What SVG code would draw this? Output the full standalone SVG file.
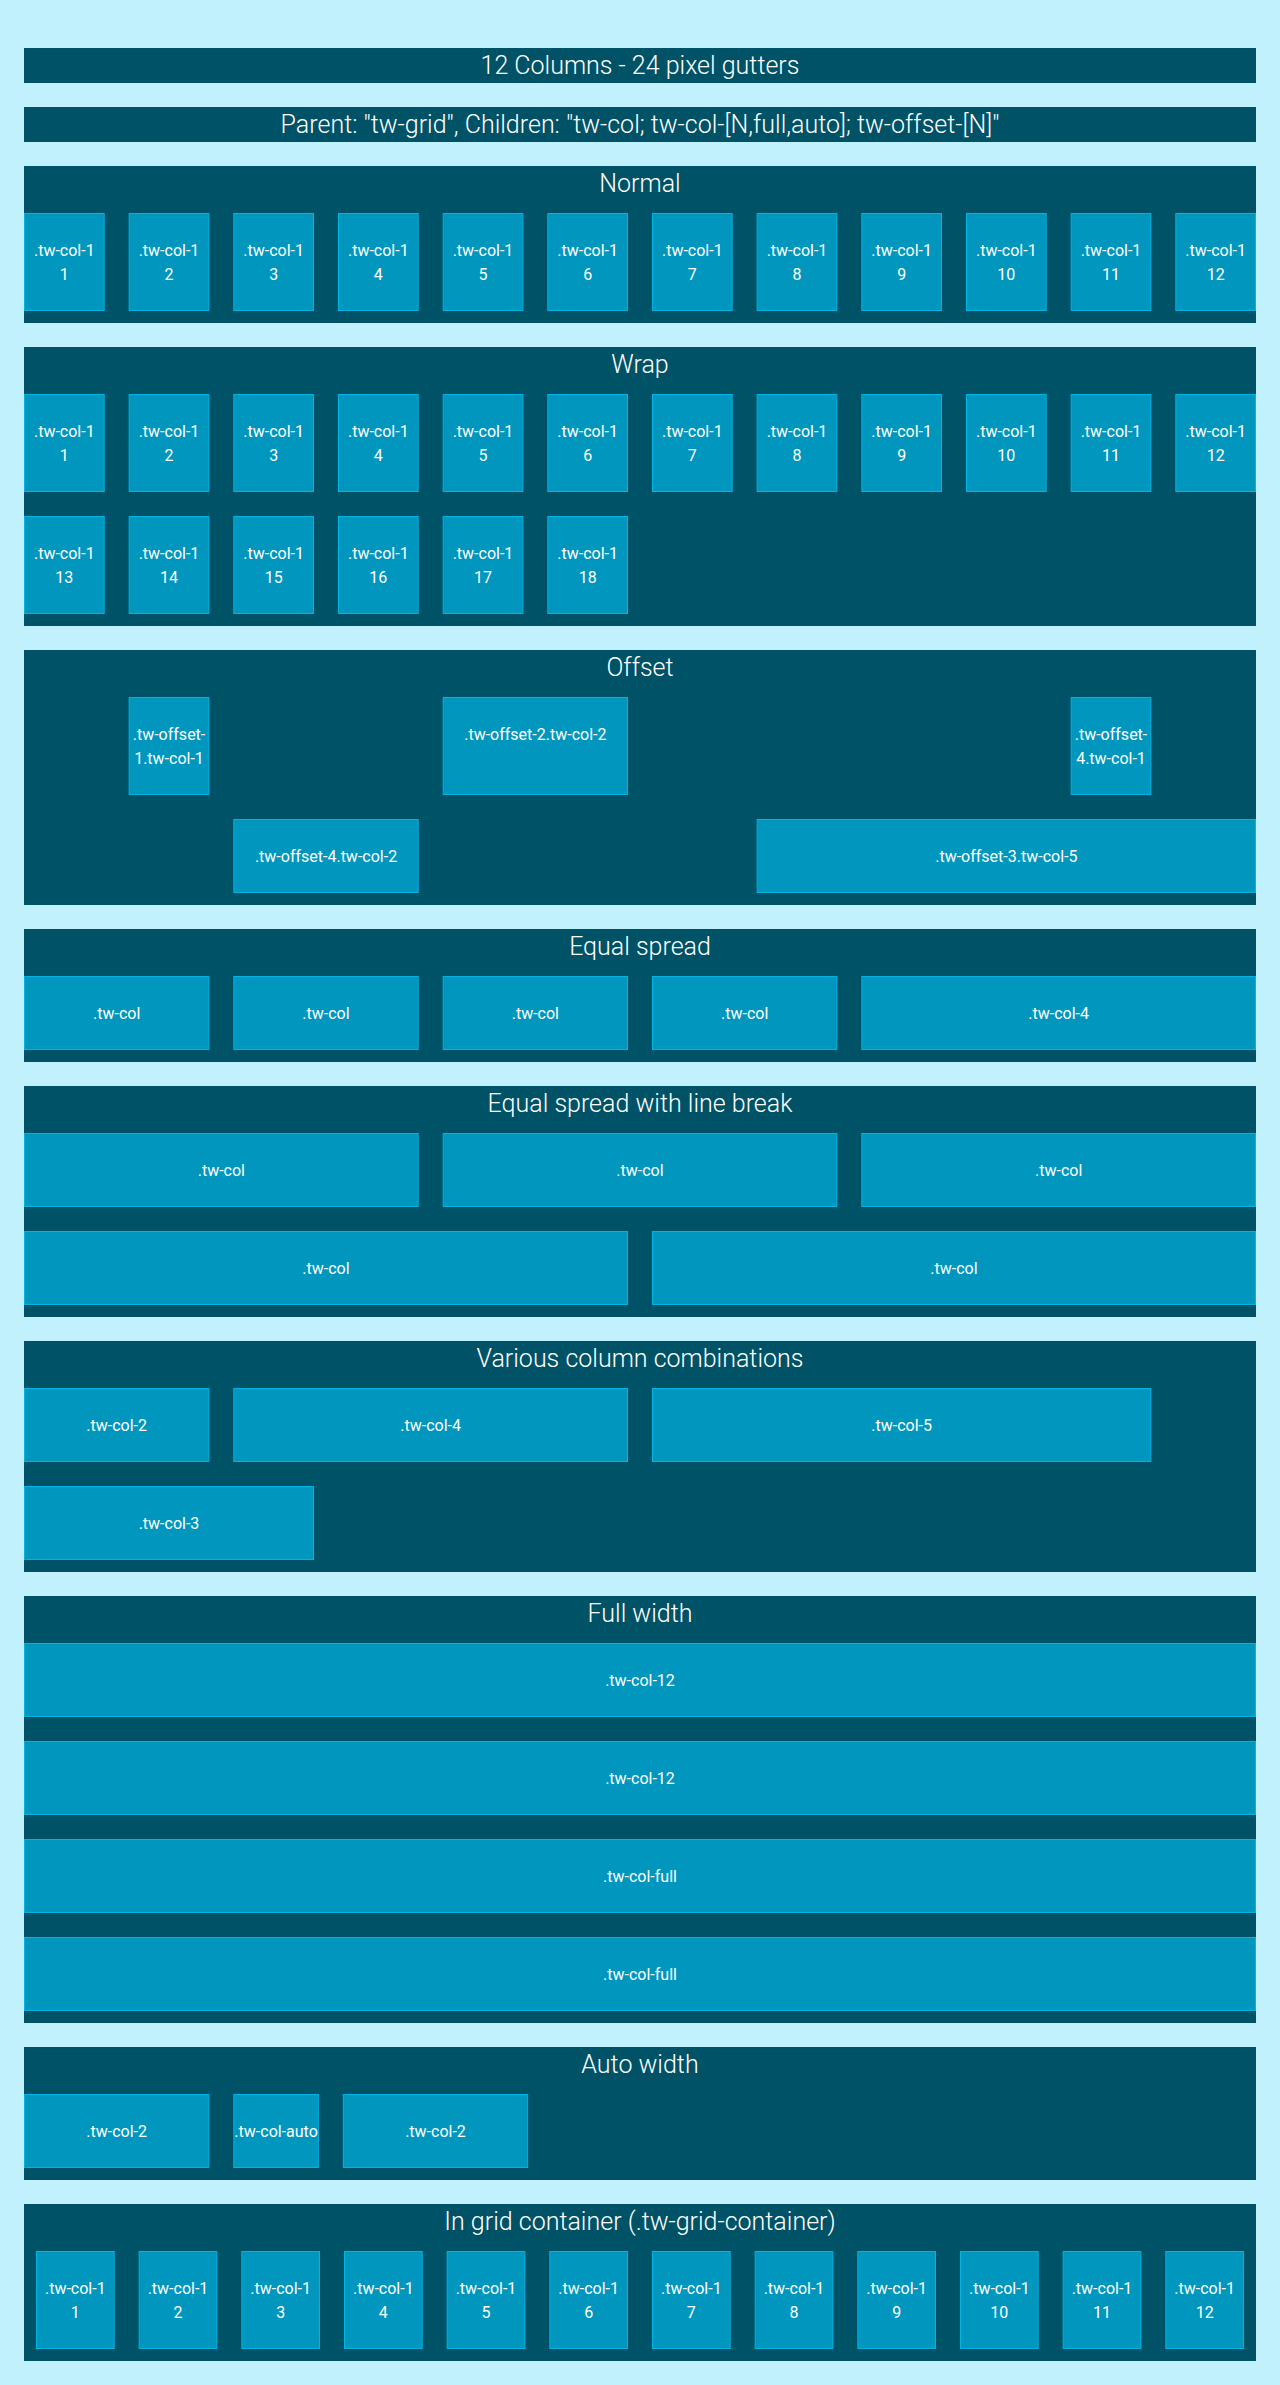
<svg xmlns="http://www.w3.org/2000/svg" width="1280" height="2385" viewBox="0 0 1280 2385">
  <style>
    .bg { fill: #c2f1fe; }
    .panel { fill: #005266; }
    .col { fill: #0096be; stroke: #00b4e6; stroke-width: 1; }
    .ttl { font-family: Roboto, "Liberation Sans", sans-serif; font-weight: 300; font-size: 25px; fill: #ffffff; text-anchor: middle; }
    .lbl { font-family: Roboto, "Liberation Sans", sans-serif; font-weight: 400; font-size: 16px; fill: #ffffff; text-anchor: middle; }
  </style>

  <rect class="bg" x="0" y="0" width="1280" height="2385"/>

  <!-- header bars -->
  <g id="heading">
    <rect class="panel" x="24" y="48" width="1232" height="35"/>
    <text class="ttl" x="640" y="74">12 Columns - 24 pixel gutters</text>
  </g>
  <g id="usage">
    <rect class="panel" x="24" y="107" width="1232" height="35"/>
    <text class="ttl" x="640" y="133">Parent: "tw-grid", Children: "tw-col; tw-col-[N,full,auto]; tw-offset-[N]"</text>
  </g>

  <!-- Normal -->
  <g id="normal">
    <rect class="panel" x="24" y="166" width="1232" height="157"/>
    <text class="ttl" x="640" y="192">Normal</text>
    <g id="normal-1"><rect class="col" x="24.5" y="213.5" width="79.67" height="97"/><text class="lbl" x="64.33" y="256">.tw-col-1</text><text class="lbl" x="64.33" y="280">1</text></g>
    <g id="normal-2"><rect class="col" x="129.17" y="213.5" width="79.67" height="97"/><text class="lbl" x="169" y="256">.tw-col-1</text><text class="lbl" x="169" y="280">2</text></g>
    <g id="normal-3"><rect class="col" x="233.83" y="213.5" width="79.67" height="97"/><text class="lbl" x="273.67" y="256">.tw-col-1</text><text class="lbl" x="273.67" y="280">3</text></g>
    <g id="normal-4"><rect class="col" x="338.5" y="213.5" width="79.67" height="97"/><text class="lbl" x="378.33" y="256">.tw-col-1</text><text class="lbl" x="378.33" y="280">4</text></g>
    <g id="normal-5"><rect class="col" x="443.17" y="213.5" width="79.67" height="97"/><text class="lbl" x="483" y="256">.tw-col-1</text><text class="lbl" x="483" y="280">5</text></g>
    <g id="normal-6"><rect class="col" x="547.83" y="213.5" width="79.67" height="97"/><text class="lbl" x="587.67" y="256">.tw-col-1</text><text class="lbl" x="587.67" y="280">6</text></g>
    <g id="normal-7"><rect class="col" x="652.5" y="213.5" width="79.67" height="97"/><text class="lbl" x="692.33" y="256">.tw-col-1</text><text class="lbl" x="692.33" y="280">7</text></g>
    <g id="normal-8"><rect class="col" x="757.17" y="213.5" width="79.67" height="97"/><text class="lbl" x="797" y="256">.tw-col-1</text><text class="lbl" x="797" y="280">8</text></g>
    <g id="normal-9"><rect class="col" x="861.83" y="213.5" width="79.67" height="97"/><text class="lbl" x="901.67" y="256">.tw-col-1</text><text class="lbl" x="901.67" y="280">9</text></g>
    <g id="normal-10"><rect class="col" x="966.5" y="213.5" width="79.67" height="97"/><text class="lbl" x="1006.33" y="256">.tw-col-1</text><text class="lbl" x="1006.33" y="280">10</text></g>
    <g id="normal-11"><rect class="col" x="1071.17" y="213.5" width="79.67" height="97"/><text class="lbl" x="1111" y="256">.tw-col-1</text><text class="lbl" x="1111" y="280">11</text></g>
    <g id="normal-12"><rect class="col" x="1175.83" y="213.5" width="79.67" height="97"/><text class="lbl" x="1215.67" y="256">.tw-col-1</text><text class="lbl" x="1215.67" y="280">12</text></g>
  </g>

  <!-- Wrap -->
  <g id="wrap">
    <rect class="panel" x="24" y="347" width="1232" height="279"/>
    <text class="ttl" x="640" y="373">Wrap</text>
    <g id="wrap-1"><rect class="col" x="24.5" y="394.5" width="79.67" height="97"/><text class="lbl" x="64.33" y="437">.tw-col-1</text><text class="lbl" x="64.33" y="461">1</text></g>
    <g id="wrap-2"><rect class="col" x="129.17" y="394.5" width="79.67" height="97"/><text class="lbl" x="169" y="437">.tw-col-1</text><text class="lbl" x="169" y="461">2</text></g>
    <g id="wrap-3"><rect class="col" x="233.83" y="394.5" width="79.67" height="97"/><text class="lbl" x="273.67" y="437">.tw-col-1</text><text class="lbl" x="273.67" y="461">3</text></g>
    <g id="wrap-4"><rect class="col" x="338.5" y="394.5" width="79.67" height="97"/><text class="lbl" x="378.33" y="437">.tw-col-1</text><text class="lbl" x="378.33" y="461">4</text></g>
    <g id="wrap-5"><rect class="col" x="443.17" y="394.5" width="79.67" height="97"/><text class="lbl" x="483" y="437">.tw-col-1</text><text class="lbl" x="483" y="461">5</text></g>
    <g id="wrap-6"><rect class="col" x="547.83" y="394.5" width="79.67" height="97"/><text class="lbl" x="587.67" y="437">.tw-col-1</text><text class="lbl" x="587.67" y="461">6</text></g>
    <g id="wrap-7"><rect class="col" x="652.5" y="394.5" width="79.67" height="97"/><text class="lbl" x="692.33" y="437">.tw-col-1</text><text class="lbl" x="692.33" y="461">7</text></g>
    <g id="wrap-8"><rect class="col" x="757.17" y="394.5" width="79.67" height="97"/><text class="lbl" x="797" y="437">.tw-col-1</text><text class="lbl" x="797" y="461">8</text></g>
    <g id="wrap-9"><rect class="col" x="861.83" y="394.5" width="79.67" height="97"/><text class="lbl" x="901.67" y="437">.tw-col-1</text><text class="lbl" x="901.67" y="461">9</text></g>
    <g id="wrap-10"><rect class="col" x="966.5" y="394.5" width="79.67" height="97"/><text class="lbl" x="1006.33" y="437">.tw-col-1</text><text class="lbl" x="1006.33" y="461">10</text></g>
    <g id="wrap-11"><rect class="col" x="1071.17" y="394.5" width="79.67" height="97"/><text class="lbl" x="1111" y="437">.tw-col-1</text><text class="lbl" x="1111" y="461">11</text></g>
    <g id="wrap-12"><rect class="col" x="1175.83" y="394.5" width="79.67" height="97"/><text class="lbl" x="1215.67" y="437">.tw-col-1</text><text class="lbl" x="1215.67" y="461">12</text></g>
    <g id="wrap-13"><rect class="col" x="24.5" y="516.5" width="79.67" height="97"/><text class="lbl" x="64.33" y="559">.tw-col-1</text><text class="lbl" x="64.33" y="583">13</text></g>
    <g id="wrap-14"><rect class="col" x="129.17" y="516.5" width="79.67" height="97"/><text class="lbl" x="169" y="559">.tw-col-1</text><text class="lbl" x="169" y="583">14</text></g>
    <g id="wrap-15"><rect class="col" x="233.83" y="516.5" width="79.67" height="97"/><text class="lbl" x="273.67" y="559">.tw-col-1</text><text class="lbl" x="273.67" y="583">15</text></g>
    <g id="wrap-16"><rect class="col" x="338.5" y="516.5" width="79.67" height="97"/><text class="lbl" x="378.33" y="559">.tw-col-1</text><text class="lbl" x="378.33" y="583">16</text></g>
    <g id="wrap-17"><rect class="col" x="443.17" y="516.5" width="79.67" height="97"/><text class="lbl" x="483" y="559">.tw-col-1</text><text class="lbl" x="483" y="583">17</text></g>
    <g id="wrap-18"><rect class="col" x="547.83" y="516.5" width="79.67" height="97"/><text class="lbl" x="587.67" y="559">.tw-col-1</text><text class="lbl" x="587.67" y="583">18</text></g>
  </g>

  <!-- Offset -->
  <g id="offset">
    <rect class="panel" x="24" y="650" width="1232" height="255"/>
    <text class="ttl" x="640" y="676">Offset</text>
    <g id="offset-a"><rect class="col" x="129.17" y="697.5" width="79.67" height="97"/><text class="lbl" x="169" y="740">.tw-offset-</text><text class="lbl" x="169" y="764">1.tw-col-1</text></g>
    <g id="offset-b"><rect class="col" x="443.17" y="697.5" width="184.33" height="97"/><text class="lbl" x="535.33" y="740">.tw-offset-2.tw-col-2</text></g>
    <g id="offset-c"><rect class="col" x="1071.17" y="697.5" width="79.67" height="97"/><text class="lbl" x="1111" y="740">.tw-offset-</text><text class="lbl" x="1111" y="764">4.tw-col-1</text></g>
    <g id="offset-d"><rect class="col" x="233.83" y="819.5" width="184.33" height="73"/><text class="lbl" x="326" y="862">.tw-offset-4.tw-col-2</text></g>
    <g id="offset-e"><rect class="col" x="757.17" y="819.5" width="498.33" height="73"/><text class="lbl" x="1006.33" y="862">.tw-offset-3.tw-col-5</text></g>
  </g>

  <!-- Equal spread -->
  <g id="equal">
    <rect class="panel" x="24" y="929" width="1232" height="133"/>
    <text class="ttl" x="640" y="955">Equal spread</text>
    <g id="equal-1"><rect class="col" x="24.5" y="976.5" width="184.33" height="73"/><text class="lbl" x="116.67" y="1019">.tw-col</text></g>
    <g id="equal-2"><rect class="col" x="233.83" y="976.5" width="184.33" height="73"/><text class="lbl" x="326" y="1019">.tw-col</text></g>
    <g id="equal-3"><rect class="col" x="443.17" y="976.5" width="184.33" height="73"/><text class="lbl" x="535.33" y="1019">.tw-col</text></g>
    <g id="equal-4"><rect class="col" x="652.5" y="976.5" width="184.33" height="73"/><text class="lbl" x="744.67" y="1019">.tw-col</text></g>
    <g id="equal-5"><rect class="col" x="861.83" y="976.5" width="393.67" height="73"/><text class="lbl" x="1058.67" y="1019">.tw-col-4</text></g>
  </g>

  <!-- Equal spread with line break -->
  <g id="equal-break">
    <rect class="panel" x="24" y="1086" width="1232" height="231"/>
    <text class="ttl" x="640" y="1112">Equal spread with line break</text>
    <g id="equal-break-1"><rect class="col" x="24.5" y="1133.5" width="393.67" height="73"/><text class="lbl" x="221.33" y="1176">.tw-col</text></g>
    <g id="equal-break-2"><rect class="col" x="443.17" y="1133.5" width="393.67" height="73"/><text class="lbl" x="640" y="1176">.tw-col</text></g>
    <g id="equal-break-3"><rect class="col" x="861.83" y="1133.5" width="393.67" height="73"/><text class="lbl" x="1058.67" y="1176">.tw-col</text></g>
    <g id="equal-break-4"><rect class="col" x="24.5" y="1231.5" width="603" height="73"/><text class="lbl" x="326" y="1274">.tw-col</text></g>
    <g id="equal-break-5"><rect class="col" x="652.5" y="1231.5" width="603" height="73"/><text class="lbl" x="954" y="1274">.tw-col</text></g>
  </g>

  <!-- Various column combinations -->
  <g id="various">
    <rect class="panel" x="24" y="1341" width="1232" height="231"/>
    <text class="ttl" x="640" y="1367">Various column combinations</text>
    <g id="various-1"><rect class="col" x="24.5" y="1388.5" width="184.33" height="73"/><text class="lbl" x="116.67" y="1431">.tw-col-2</text></g>
    <g id="various-2"><rect class="col" x="233.83" y="1388.5" width="393.67" height="73"/><text class="lbl" x="430.67" y="1431">.tw-col-4</text></g>
    <g id="various-3"><rect class="col" x="652.5" y="1388.5" width="498.33" height="73"/><text class="lbl" x="901.67" y="1431">.tw-col-5</text></g>
    <g id="various-4"><rect class="col" x="24.5" y="1486.5" width="289" height="73"/><text class="lbl" x="169" y="1529">.tw-col-3</text></g>
  </g>

  <!-- Full width -->
  <g id="full">
    <rect class="panel" x="24" y="1596" width="1232" height="427"/>
    <text class="ttl" x="640" y="1622">Full width</text>
    <g id="full-1"><rect class="col" x="24.5" y="1643.5" width="1231" height="73"/><text class="lbl" x="640" y="1686">.tw-col-12</text></g>
    <g id="full-2"><rect class="col" x="24.5" y="1741.5" width="1231" height="73"/><text class="lbl" x="640" y="1784">.tw-col-12</text></g>
    <g id="full-3"><rect class="col" x="24.5" y="1839.5" width="1231" height="73"/><text class="lbl" x="640" y="1882">.tw-col-full</text></g>
    <g id="full-4"><rect class="col" x="24.5" y="1937.5" width="1231" height="73"/><text class="lbl" x="640" y="1980">.tw-col-full</text></g>
  </g>

  <!-- Auto width -->
  <g id="auto">
    <rect class="panel" x="24" y="2047" width="1232" height="133"/>
    <text class="ttl" x="640" y="2073">Auto width</text>
    <g id="auto-1"><rect class="col" x="24.5" y="2094.5" width="184.33" height="73"/><text class="lbl" x="116.67" y="2137">.tw-col-2</text></g>
    <g id="auto-2"><rect class="col" x="233.83" y="2094.5" width="84.5" height="73"/><text class="lbl" x="276.08" y="2137">.tw-col-auto</text></g>
    <g id="auto-3"><rect class="col" x="343.33" y="2094.5" width="184.33" height="73"/><text class="lbl" x="435.5" y="2137">.tw-col-2</text></g>
  </g>

  <!-- In grid container -->
  <g id="container">
    <rect class="panel" x="24" y="2204" width="1232" height="157"/>
    <text class="ttl" x="640" y="2230">In grid container (.tw-grid-container)</text>
    <g id="container-1"><rect class="col" x="36.5" y="2251.5" width="77.67" height="97"/><text class="lbl" x="75.33" y="2294">.tw-col-1</text><text class="lbl" x="75.33" y="2318">1</text></g>
    <g id="container-2"><rect class="col" x="139.17" y="2251.5" width="77.67" height="97"/><text class="lbl" x="178" y="2294">.tw-col-1</text><text class="lbl" x="178" y="2318">2</text></g>
    <g id="container-3"><rect class="col" x="241.83" y="2251.5" width="77.67" height="97"/><text class="lbl" x="280.67" y="2294">.tw-col-1</text><text class="lbl" x="280.67" y="2318">3</text></g>
    <g id="container-4"><rect class="col" x="344.5" y="2251.5" width="77.67" height="97"/><text class="lbl" x="383.33" y="2294">.tw-col-1</text><text class="lbl" x="383.33" y="2318">4</text></g>
    <g id="container-5"><rect class="col" x="447.17" y="2251.5" width="77.67" height="97"/><text class="lbl" x="486" y="2294">.tw-col-1</text><text class="lbl" x="486" y="2318">5</text></g>
    <g id="container-6"><rect class="col" x="549.83" y="2251.5" width="77.67" height="97"/><text class="lbl" x="588.67" y="2294">.tw-col-1</text><text class="lbl" x="588.67" y="2318">6</text></g>
    <g id="container-7"><rect class="col" x="652.5" y="2251.5" width="77.67" height="97"/><text class="lbl" x="691.33" y="2294">.tw-col-1</text><text class="lbl" x="691.33" y="2318">7</text></g>
    <g id="container-8"><rect class="col" x="755.17" y="2251.5" width="77.67" height="97"/><text class="lbl" x="794" y="2294">.tw-col-1</text><text class="lbl" x="794" y="2318">8</text></g>
    <g id="container-9"><rect class="col" x="857.83" y="2251.5" width="77.67" height="97"/><text class="lbl" x="896.67" y="2294">.tw-col-1</text><text class="lbl" x="896.67" y="2318">9</text></g>
    <g id="container-10"><rect class="col" x="960.5" y="2251.5" width="77.67" height="97"/><text class="lbl" x="999.33" y="2294">.tw-col-1</text><text class="lbl" x="999.33" y="2318">10</text></g>
    <g id="container-11"><rect class="col" x="1063.17" y="2251.5" width="77.67" height="97"/><text class="lbl" x="1102" y="2294">.tw-col-1</text><text class="lbl" x="1102" y="2318">11</text></g>
    <g id="container-12"><rect class="col" x="1165.83" y="2251.5" width="77.67" height="97"/><text class="lbl" x="1204.67" y="2294">.tw-col-1</text><text class="lbl" x="1204.67" y="2318">12</text></g>
  </g>
</svg>
